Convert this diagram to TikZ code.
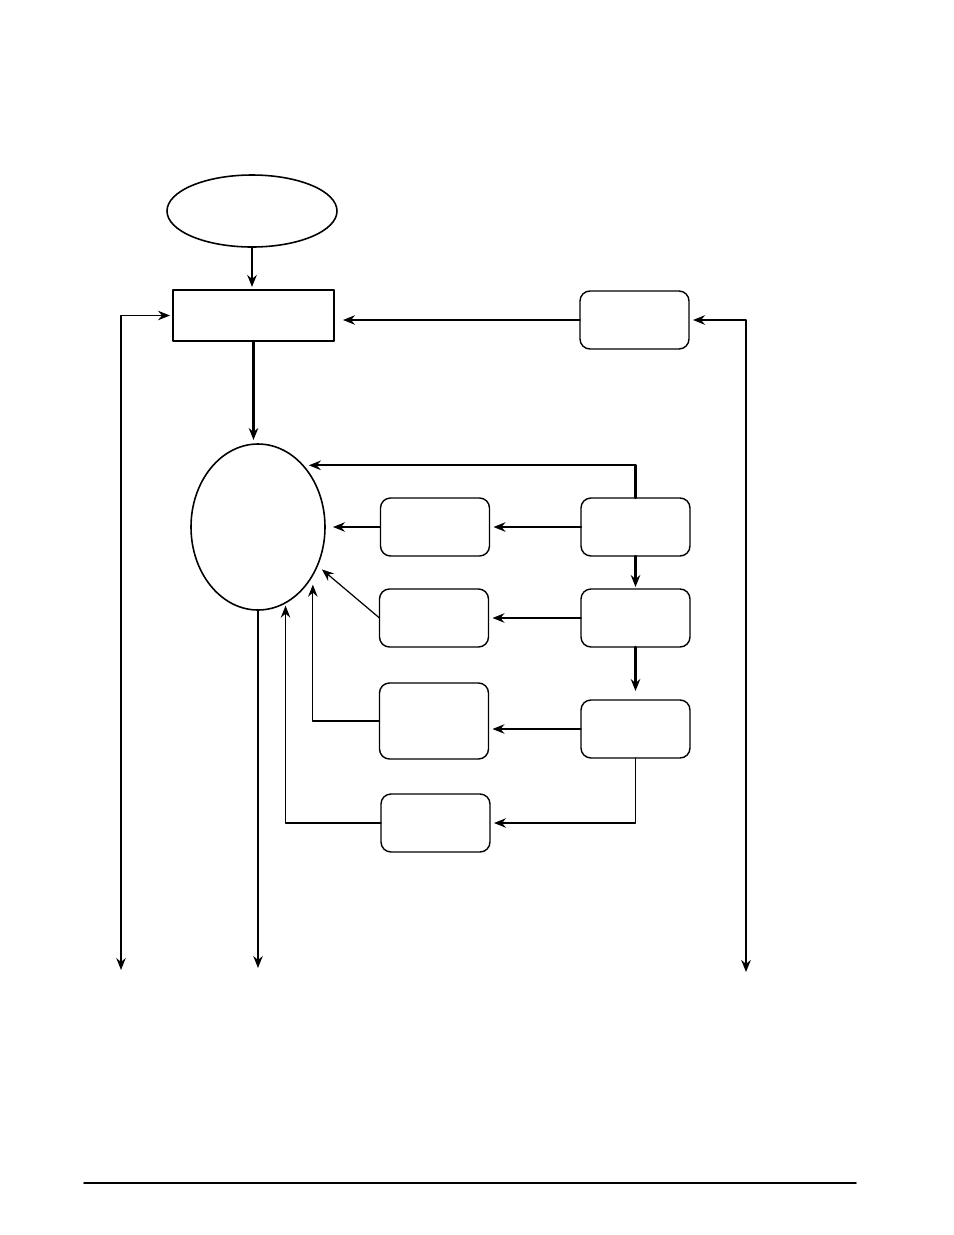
\documentclass[tikz,border=0pt]{standalone}
\usetikzlibrary{arrows.meta,shapes.geometric}

\begin{document}
\begin{tikzpicture}[line cap=round,line join=round,>={Stealth[length=2.4mm,width=1.9mm,inset=0.8mm]},x=0.2mm,y=-0.2mm,
		oval/.style={draw,ellipse,line width=0.9pt,inner sep=0pt,outer sep=0pt},
		plainbox/.style={draw,rectangle,line width=0.8pt,inner sep=0pt,outer sep=0pt,minimum width=32.2mm,minimum height=10.2mm},
		roundbox/.style={draw,rectangle,rounded corners=2mm,line width=0.8pt,inner sep=0pt,outer sep=0pt,minimum width=21.8mm,minimum height=11.6mm},
		heavy/.style={line width=1.2pt},
		light/.style={line width=0.7pt}]
			\useasboundingbox (0,0) rectangle (954,1235);
			% top part
			\node [oval,minimum width=34mm,minimum height=14.4mm] (start) at (252,211) {};
			\node [plainbox] (setup) at (253.5,315.5) {};
			\node [roundbox] (feed) at (634.5,320) {};
			\node [oval,minimum width=26.8mm,minimum height=33.2mm] (hub) at (258,527) {};
			% right column
			\node [roundbox] (a1) at (635.5,527) {};
			\node [roundbox] (a2) at (635.5,618) {};
			\node [roundbox] (a3) at (635.5,729) {};
			% middle column
			\node [roundbox] (b1) at (435,527) {};
			\node [roundbox] (b2) at (434,618) {};
			\node [roundbox,minimum height=15.2mm] (b3) at (434,721) {};
			\node [roundbox] (b4) at (435.5,823) {};
			% free ends
			\coordinate (outL) at (121,970);
			\coordinate (outM) at (258,968);
			\coordinate (outR) at (746,972);
			% connectors
			\draw [heavy,->,shorten >=0.6mm] (start.south) -- (start.south |- setup.north);
			\draw [heavy,->,shorten >=0.8mm] (setup.south) -- (setup.south |- hub.north);
			\draw [light,->,shorten >=1.8mm] (feed.west) -- (feed.west -| setup.east);
			\draw [light,<->,shorten >=0.6mm] (outL) |- (setup.west);
			\draw [heavy,<->,shorten >=0.8mm] (outR) |- (feed.east);
			\draw [light,->] (hub.south) -- (outM);
			\draw [heavy,->,shorten >=1.2mm] (a1.north) |- (hub.54);
			\draw [heavy,->,shorten >=0.8mm] (a1.west) -- (b1.east);
			\draw [heavy,->,shorten >=0.4mm] (a1.south) -- (a2.north);
			\draw [light,->,shorten >=0.8mm] (a2.west) -- (b2.east);
			\draw [heavy,->,shorten >=1.8mm] (a2.south) -- (a3.north);
			\draw [light,->,shorten >=0.8mm] (a3.west) -- (a3.west -| b3.east);
			\draw [light,->,shorten >=0.8mm] (a3.south) |- (b4.east);
			\draw [light,->,shorten >=1.6mm] (b1.west) -- (hub);
			\draw [light,->,shorten >=1.2mm] (b2.west) -- (hub.-33);
			\draw [light,->,shorten >=2mm] (b3.west) -| (hub.-41);
			\draw [light,->,shorten >=0.6mm] (b4.west) -| (hub.-70);
			% rule at the foot
			\draw [line width=0.9pt] (84,1183) -- (856,1183);
		\end{tikzpicture}
\end{document}
